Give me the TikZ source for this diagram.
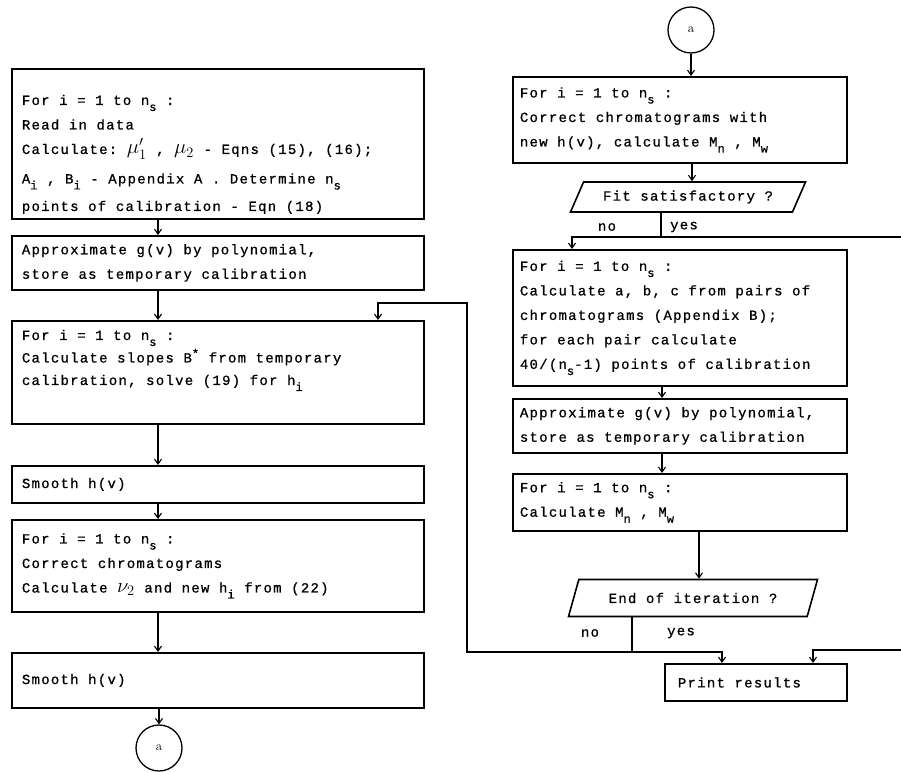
\documentclass[tikz,border=0pt]{standalone}
\usepackage{fontspec}
\usetikzlibrary{arrows.meta,shapes.geometric}
\newfontfamily\typer[LetterSpace=9,FakeBold=0.8]{Liberation Mono}
\newcommand{\typeset}[1]{\typer\fontsize{14}{#1}\selectfont}
\newcommand{\wordgap}{\spaceskip=9.6pt\xspaceskip=9.6pt\relax}
\newcommand{\dsub}[1]{\raisebox{-6pt}{\fontsize{12}{12}\selectfont #1}}
\newcommand{\usup}[1]{\raisebox{5pt}{\fontsize{12}{12}\selectfont #1}}
\newcommand{\bigsym}[1]{{\fontsize{21}{21}\selectfont$#1$}}

\begin{document}
\begin{tikzpicture}[
    x=1pt, y=-1pt,
    flow/.style={-{Straight Barb[length=5pt,width=7pt]}, line width=1.1pt},
    line/.style={line width=1.1pt},
    procbox/.style={draw, line width=1.8pt, anchor=north west, align=left,
        inner xsep=10pt, inner ysep=0pt, font={\typeset{24.5}},
        execute at begin node=\wordgap},
    lbox/.style={procbox, text width=392pt},
    rbox/.style={procbox, inner xsep=7pt, text width=320pt},
    decision/.style={draw, line width=1.6pt, trapezium, trapezium left angle=45,
        trapezium right angle=135, trapezium stretches body=true, inner sep=0pt,
        font={\typeset{14}}, execute at begin node=\wordgap},
    connector/.style={draw, circle, line width=1.3pt, minimum size=46pt,
        inner sep=0pt, font=\fontsize{13}{13}\selectfont},
    branch/.style={font={\typeset{14}}}
]
    \useasboundingbox (0,0) rectangle (901,771);

    % left column
    \node[lbox, minimum height=150pt] (init) at (11,68)
        {\rule{0pt}{31pt}For i = 1 to n\dsub{s} :\\
         Read in data\\
         Calculate: \bigsym{\mu_1'} , \bigsym{\mu_2} - Eqns (15), (16);\\[5pt]
         A\dsub{i} , B\dsub{i} - Appendix A . Determine n\dsub{s}\\[3pt]
         points of calibration - Eqn (18)};
    \node[lbox, minimum height=54pt] (approxL) at (11,235)
        {Approximate g(v) by polynomial,\\
         store as temporary calibration};
    \node[lbox, minimum height=103pt, font={\typeset{22.5}}] (slopes) at (11,320)
        {For i = 1 to n\dsub{s} :\\
         Calculate slopes B\usup{*} from temporary\\
         calibration, solve (19) for h\dsub{i}\rule[-30pt]{0pt}{0pt}};
    \node[lbox, minimum height=37pt] (smoothA) at (11,465) {Smooth h(v)};
    \node[lbox, minimum height=92pt] (correct) at (11,519)
        {For i = 1 to n\dsub{s} :\\
         Correct chromatograms\\
         Calculate \bigsym{\nu_2} and new h\dsub{i} from (22)};
    \node[lbox, minimum height=55pt] (smoothB) at (11,652) {Smooth h(v)};
    \node[connector] (outA) at (159,748) {a};

    % right column
    \node[connector] (inA) at (691,30) {a};
    \node[rbox, minimum height=86pt] (correctR) at (512,76)
        {For i = 1 to n\dsub{s} :\\
         Correct chromatograms with\\
         new h(v), calculate M\dsub{n} , M\dsub{w}};
    \node[decision, minimum width=235pt, minimum height=30pt] (fit) at (688,197)
        {Fit satisfactory ?};
    \node[rbox, minimum height=136pt] (pairs) at (512,249)
        {For i = 1 to n\dsub{s} :\\
         Calculate a, b, c from pairs of\\
         chromatograms (Appendix B);\\
         for each pair calculate\\
         40/(n\dsub{s}-1) points of calibration};
    \node[rbox, minimum height=54pt] (approxR) at (512,398)
        {Approximate g(v) by polynomial,\\
         store as temporary calibration};
    \node[rbox, minimum height=57pt] (moments) at (512,473)
        {For i = 1 to n\dsub{s} :\\
         Calculate M\dsub{n} , M\dsub{w}};
    \node[decision, minimum width=249pt, minimum height=37pt] (iter) at (693,598)
        {End of iteration ?};
    \node[procbox, inner xsep=13pt, text width=156pt, minimum height=37pt] (print) at (664,663)
        {Print results};

    \node[branch] (noFit) at (607,227) {no};
    \node[branch] (yesFit) at (684,227) {yes};
    \node[branch] (noIter) at (590,633) {no};
    \node[branch] (yesIter) at (681,633) {yes};

    % columns and junctions
    \coordinate (colL) at (158,0);
    \coordinate (colR) at (692,0);
    \coordinate (colM) at (662,0);
    \coordinate (colI) at (699,0);
    \coordinate (colP) at (722,0);
    \coordinate (colQ) at (813,0);
    \coordinate (noX) at (572,0);
    \coordinate (backX) at (378,0);
    \coordinate (j1) at (661,237);
    \coordinate (j2) at (632,652);
    \coordinate (exitR) at (901,237);
    \coordinate (returnR) at (901,650);
    \coordinate (loopB) at (467,652);
    \coordinate (loopT) at (467,303);

    \draw[flow] (init.south -| colL) -- (approxL.north -| colL);
    \draw[flow] (approxL.south -| colL) -- (slopes.north -| colL);
    \draw[flow] (slopes.south -| colL) -- (smoothA.north -| colL);
    \draw[flow] (smoothA.south -| colL) -- (correct.north -| colL);
    \draw[flow] (correct.south -| colL) -- (smoothB.north -| colL);
    \draw[flow] (smoothB.south -| outA) -- (outA.north);

    \draw[flow] (inA.south) -- (correctR.north -| inA);
    \draw[flow] (correctR.south -| colR) -- (fit.north -| colR);
    \draw[line] (fit.south -| j1) -- (j1);
    \draw[flow] (j1) -- (j1 -| noX) -- (pairs.north -| noX);
    \draw[line] (j1) -- (exitR);
    \draw[flow] (pairs.south -| colM) -- (approxR.north -| colM);
    \draw[flow] (approxR.south -| colM) -- (moments.north -| colM);
    \draw[flow] (moments.south -| colI) -- (iter.north -| colI);
    \draw[line] (iter.south -| j2) -- (j2);
    \draw[flow] (j2) -- (j2 -| colP) -- (print.north -| colP);
    \draw[flow] (j2) -- (loopB) -- (loopT) -- (loopT -| backX) -- (slopes.north -| backX);
    \draw[flow] (returnR) -- (returnR -| colQ) -- (print.north -| colQ);
\end{tikzpicture}
\end{document}
